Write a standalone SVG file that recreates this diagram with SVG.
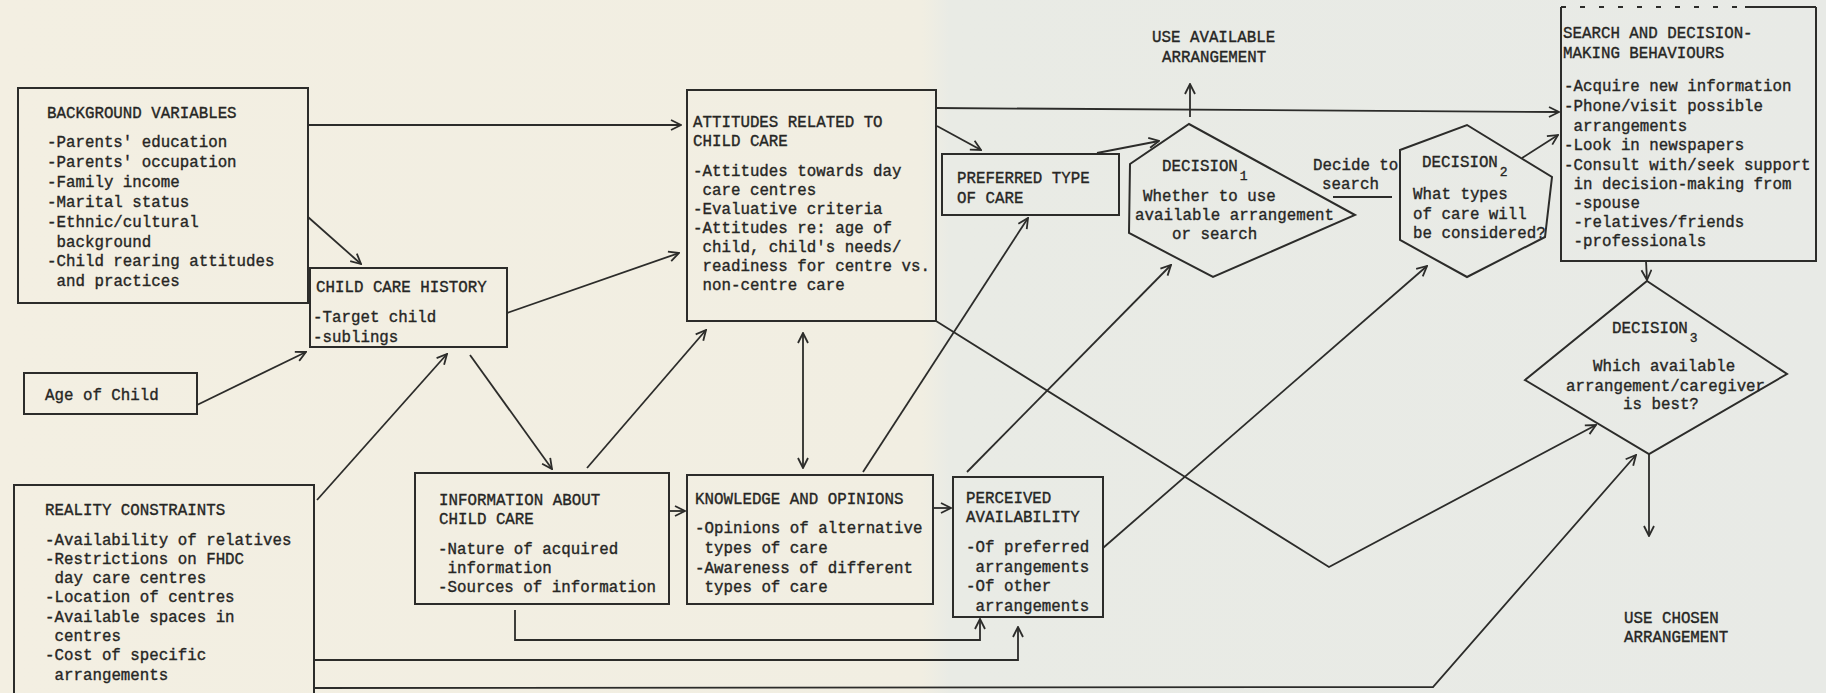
<svg xmlns="http://www.w3.org/2000/svg" width="1826" height="693" viewBox="0 0 1826 693">
<defs>
<linearGradient id="paper" x1="0" y1="0" x2="1826" y2="0" gradientUnits="userSpaceOnUse">
<stop offset="0" stop-color="#f3efe2"/>
<stop offset="0.505" stop-color="#f1eee2"/>
<stop offset="0.52" stop-color="#e9ebe5"/>
<stop offset="1" stop-color="#e8eae6"/>
</linearGradient>
<marker id="ah" viewBox="0 0 12 12" refX="11" refY="6" markerWidth="12" markerHeight="12" markerUnits="userSpaceOnUse" orient="auto-start-reverse">
<path d="M1,1 L11,6 L1,11" fill="none" stroke="#2c2c2a" stroke-width="1.8"/>
</marker>
<style>
.bx{fill:none;stroke:#2c2c2a;stroke-width:2}
.t{font-family:"Liberation Mono",monospace;font-size:15.8px;fill:#262624;stroke:#262624;stroke-width:0.35}
.c{fill:none;stroke:#2c2c2a;stroke-width:1.8}
.a{marker-end:url(#ah)}
.sub{font-size:13px}
</style>
</defs>
<rect x="0" y="0" width="1826" height="693" fill="url(#paper)"/>

<g id="background-variables">
<rect class="bx" x="18" y="88" width="290" height="215"/>
<text class="t" x="47" y="118">BACKGROUND VARIABLES</text>
<text class="t" x="47" y="147">-Parents' education</text>
<text class="t" x="47" y="167">-Parents' occupation</text>
<text class="t" x="47" y="187">-Family income</text>
<text class="t" x="47" y="207">-Marital status</text>
<text class="t" x="47" y="227">-Ethnic/cultural</text>
<text class="t" x="56.5" y="247">background</text>
<text class="t" x="47" y="266">-Child rearing attitudes</text>
<text class="t" x="56.5" y="286">and practices</text>
</g>

<g id="child-care-history">
<rect class="bx" x="310" y="268" width="197" height="79"/>
<text class="t" x="316" y="292">CHILD CARE HISTORY</text>
<text class="t" x="313" y="322">-Target child</text>
<text class="t" x="313" y="342">-sublings</text>
</g>

<g id="age-of-child">
<rect class="bx" x="24" y="373" width="173" height="41"/>
<text class="t" x="45" y="400">Age of Child</text>
</g>

<g id="reality-constraints">
<rect class="bx" x="14" y="485" width="300" height="220"/>
<text class="t" x="45" y="515">REALITY CONSTRAINTS</text>
<text class="t" x="45" y="545">-Availability of relatives</text>
<text class="t" x="45" y="564">-Restrictions on FHDC</text>
<text class="t" x="54.5" y="583">day care centres</text>
<text class="t" x="45" y="602">-Location of centres</text>
<text class="t" x="45" y="622">-Available spaces in</text>
<text class="t" x="54.5" y="641">centres</text>
<text class="t" x="45" y="660">-Cost of specific</text>
<text class="t" x="54.5" y="680">arrangements</text>
</g>

<g id="attitudes">
<rect class="bx" x="687" y="90" width="249" height="231"/>
<text class="t" x="693" y="127">ATTITUDES RELATED TO</text>
<text class="t" x="693" y="146">CHILD CARE</text>
<text class="t" x="693" y="176">-Attitudes towards day</text>
<text class="t" x="702.5" y="195">care centres</text>
<text class="t" x="693" y="214">-Evaluative criteria</text>
<text class="t" x="693" y="233">-Attitudes re: age of</text>
<text class="t" x="702.5" y="252">child, child's needs/</text>
<text class="t" x="702.5" y="271">readiness for centre vs.</text>
<text class="t" x="702.5" y="290">non-centre care</text>
</g>

<g id="preferred-type">
<rect class="bx" x="942" y="154" width="177" height="61"/>
<text class="t" x="957" y="183">PREFERRED TYPE</text>
<text class="t" x="957" y="203">OF CARE</text>
</g>

<g id="use-available">
<text class="t" x="1152" y="42">USE AVAILABLE</text>
<text class="t" x="1162" y="62">ARRANGEMENT</text>
</g>

<g id="decision1">
<polygon class="bx" points="1130,164 1189,124 1355,215 1213,277 1129,233"/>
<text class="t" x="1162" y="171">DECISION<tspan class="sub" dx="2" dy="9">1</tspan></text>
<text class="t" x="1143" y="201">Whether to use</text>
<text class="t" x="1135" y="220">available arrangement</text>
<text class="t" x="1172" y="239">or search</text>
</g>

<g id="decide-label">
<text class="t" x="1313" y="170">Decide to</text>
<text class="t" x="1322" y="189">search</text>
</g>

<g id="decision2">
<polygon class="bx" points="1400,150 1467,125 1552,177 1545,237 1467,277 1400,240"/>
<text class="t" x="1422" y="167">DECISION<tspan class="sub" dx="2" dy="9">2</tspan></text>
<text class="t" x="1413" y="199">What types</text>
<text class="t" x="1413" y="219">of care will</text>
<text class="t" x="1413" y="238">be considered?</text>
</g>

<g id="search-behaviours">
<path class="bx" d="M1561,7 L1561,261 L1816,261 L1816,7"/>
<path class="bx" d="M1561,7 L1745,7" stroke-dasharray="5 14"/>
<path class="bx" d="M1745,7 L1816,7"/>
<text class="t" x="1563" y="38">SEARCH AND DECISION-</text>
<text class="t" x="1563" y="58">MAKING BEHAVIOURS</text>
<text class="t" x="1564" y="91">-Acquire new information</text>
<text class="t" x="1564" y="111">-Phone/visit possible</text>
<text class="t" x="1573.5" y="131">arrangements</text>
<text class="t" x="1564" y="150">-Look in newspapers</text>
<text class="t" x="1564" y="170">-Consult with/seek support</text>
<text class="t" x="1573.5" y="189">in decision-making from</text>
<text class="t" x="1573.5" y="208">-spouse</text>
<text class="t" x="1573.5" y="227">-relatives/friends</text>
<text class="t" x="1573.5" y="246">-professionals</text>
</g>

<g id="decision3">
<polygon class="bx" points="1647,281 1787,374 1649,454 1525,380"/>
<text class="t" x="1612" y="333">DECISION<tspan class="sub" dx="2" dy="9">3</tspan></text>
<text class="t" x="1593" y="371">Which available</text>
<text class="t" x="1566" y="391">arrangement/caregiver</text>
<text class="t" x="1623" y="409">is best?</text>
</g>

<g id="use-chosen">
<text class="t" x="1624" y="623">USE CHOSEN</text>
<text class="t" x="1624" y="642">ARRANGEMENT</text>
</g>

<g id="information">
<rect class="bx" x="415" y="473" width="254" height="131"/>
<text class="t" x="439" y="505">INFORMATION ABOUT</text>
<text class="t" x="439" y="524">CHILD CARE</text>
<text class="t" x="438" y="554">-Nature of acquired</text>
<text class="t" x="447.5" y="573">information</text>
<text class="t" x="438" y="592">-Sources of information</text>
</g>

<g id="knowledge">
<rect class="bx" x="687" y="475" width="246" height="129"/>
<text class="t" x="695" y="504">KNOWLEDGE AND OPINIONS</text>
<text class="t" x="695" y="533">-Opinions of alternative</text>
<text class="t" x="704.5" y="553">types of care</text>
<text class="t" x="695" y="573">-Awareness of different</text>
<text class="t" x="704.5" y="592">types of care</text>
</g>

<g id="perceived">
<rect class="bx" x="953" y="477" width="150" height="140"/>
<text class="t" x="966" y="503">PERCEIVED</text>
<text class="t" x="966" y="522">AVAILABILITY</text>
<text class="t" x="966" y="552">-Of preferred</text>
<text class="t" x="975.5" y="572">arrangements</text>
<text class="t" x="966" y="591">-Of other</text>
<text class="t" x="975.5" y="611">arrangements</text>
</g>

<g id="connectors">
<path class="c a" d="M308,125 L681,125"/>
<path class="c a" d="M308,217 L361,264"/>
<path class="c a" d="M197,405 L306,352"/>
<path class="c a" d="M317,500 L447,354"/>
<path class="c a" d="M507,313 L679,253"/>
<path class="c a" d="M470,355 L552,469"/>
<path class="c a" d="M587,468 L706,330"/>
<path class="c a" d="M803,333 L803,468" marker-start="url(#ah)"/>
<path class="c a" d="M669,511 L685,511"/>
<path class="c a" d="M933,508 L951,508"/>
<path class="c a" d="M863,472 L1028,218"/>
<path class="c a" d="M967,472 L1171,265"/>
<path class="c a" d="M1103,548 L1427,266"/>
<path class="c a" d="M936,321 L1329,567 L1596,425"/>
<path class="c a" d="M314,688 L1433,687 L1636,455"/>
<path class="c a" d="M515,610 L515,640 L980,640 L980,619"/>
<path class="c a" d="M314,660 L1018,660 L1018,627"/>
<path class="c a" d="M936,108 L1559,112"/>
<path class="c a" d="M937,126 L981,150"/>
<path class="c a" d="M1097,153 L1159,141"/>
<path class="c a" d="M1190,117 L1190,84"/>
<path class="c" d="M1333,197 L1392,197"/>
<path class="c a" d="M1522,158 L1558,135"/>
<path class="c a" d="M1646,261 L1647,280"/>
<path class="c a" d="M1649,454 L1649,536"/>
</g>
</svg>
